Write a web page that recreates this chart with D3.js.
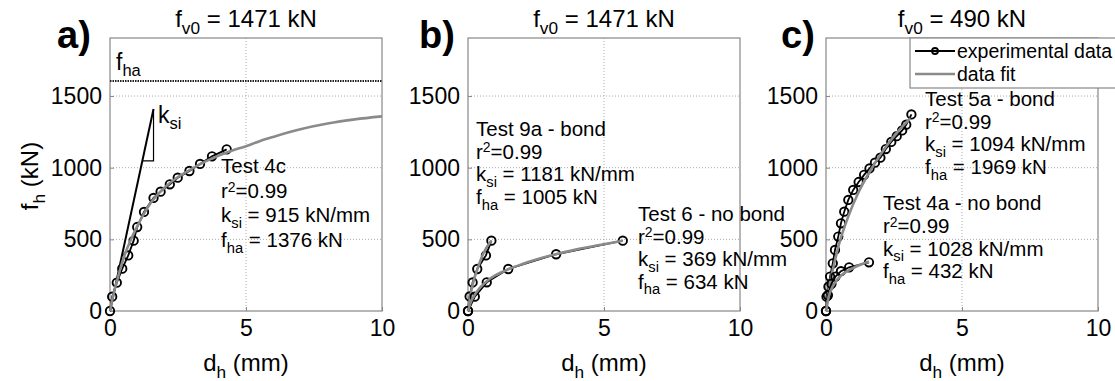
<!DOCTYPE html>
<html><head><meta charset="utf-8">
<script src="https://cdn.jsdelivr.net/npm/d3@7"></script>
<style>body{margin:0;background:#fff}svg{display:block}</style>
</head><body><svg id="c" width="1115" height="381" font-family="'Liberation Sans', Arial, sans-serif"></svg>
<script>
// ---------- data ----------
const xTicks = [0, 5, 10];
const yTicks = [0, 500, 1000, 1500];
const panelLetters = ["a)", "b)", "c)"];
const panelFv0 = ["1471", "1471", "490"];

// panel a: Test 4c
const test4cExp = [[0,0],[0.08,100],[0.25,198],[0.45,295],[0.67,388],[0.87,491],[1.0,586],[1.25,691],[1.6,789],[1.86,833],[2.2,884],[2.49,930],[2.92,977],[3.31,1026],[3.75,1079],[4.29,1128]];
const test4cFit = [[0,0],[0.1,95],[0.25,205],[0.5,370],[0.75,490],[1,590],[1.5,755],[2,860],[2.5,935],[3,992],[3.5,1042],[4,1085],[4.5,1120],[5,1150],[5.5,1185],[6,1215],[7,1268],[8,1308],[9,1337],[10,1358]];
const fhaLevelA = 1605;
const ksiLineA = [[0,0],[1.6,1410]];
const ksiTriA = [[1.19,1047],[1.6,1047],[1.6,1410]];

// panel b: Test 9a (bond), Test 6 (no bond)
const test9aExp = [[0,0],[0.06,102],[0.17,199],[0.34,293],[0.66,388],[0.86,491]];
const test9aFit = [[0,0],[0.08,100],[0.2,205],[0.36,300],[0.56,400],[0.86,492]];
const test6Exp = [[0,0],[0.25,100],[0.69,200],[1.48,293],[3.24,396],[5.69,491]];
const test6Fit = [[0,0],[0.1,60],[0.3,128],[0.7,210],[1.0,248],[1.5,293],[2,328],[3,385],[4,430],[5,466],[5.69,490]];

// panel c: Test 5a (bond), Test 4a (no bond)
const test5aExp = [[0,0],[0.02,100],[0.09,170],[0.15,240],[0.25,333],[0.33,426],[0.45,519],[0.55,612],[0.67,693],[0.82,775],[1.0,845],[1.2,900],[1.4,950],[1.6,995],[1.8,1035],[2.0,1070],[2.2,1130],[2.4,1180],[2.6,1220],[2.8,1260],[2.95,1300],[3.14,1372]];
const test5aFit = [[0,0],[0.1,150],[0.3,330],[0.5,480],[0.8,650],[1.2,830],[1.6,970],[2,1090],[2.5,1220],[3.1,1345]];
const test4aExp = [[0,0],[0.07,110],[0.2,190],[0.35,240],[0.55,278],[0.85,305],[1.58,340]];
const test4aFit = [[0,0],[0.1,100],[0.3,190],[0.6,255],[1,300],[1.58,345]];

const legendLabels = ["experimental data", "data fit"];

// ---------- layout ----------
const svg = d3.select("#c");
const FONT = "'Liberation Sans', Arial, sans-serif";
const panelLeft = [110, 468, 826], panelW = 272, plotTop = 38, plotBottom = 311;
const letterX = [57, 419, 781];

function rich(sel, x, y, parts, size, anchor) {
  const t = sel.append("text").attr("x", x).attr("y", y).attr("font-size", size)
    .attr("text-anchor", anchor || "start").attr("fill", "#000").attr("font-family", FONT);
  let shift = 0;
  parts.forEach(p => {
    const ts = t.append("tspan").text(p.t);
    let target = 0, fs = size;
    if (p.sub) { target = size * 0.28; fs = size * 0.72; }
    if (p.sup) { target = -size * 0.3; fs = size * 0.68; }
    ts.attr("dy", target - shift).attr("font-size", fs);
    shift = target;
  });
  return t;
}

const xs = [], ys = [];
panelLeft.forEach((L, i) => {
  const x = d3.scaleLinear().domain([0, 10]).range([L, L + panelW]);
  const y = d3.scaleLinear().domain([0, 1905]).range([plotBottom, plotTop]);
  xs.push(x); ys.push(y);
  const g = svg.append("g");
  xTicks.slice(1, -1).forEach(v => g.append("line").attr("x1", x(v)).attr("x2", x(v)).attr("y1", plotTop).attr("y2", plotBottom)
    .attr("stroke", "#aaa").attr("stroke-dasharray", "1,2").attr("stroke-width", 1));
  yTicks.slice(1).forEach(v => g.append("line").attr("x1", L).attr("x2", L + panelW).attr("y1", y(v)).attr("y2", y(v))
    .attr("stroke", "#aaa").attr("stroke-dasharray", "1,2").attr("stroke-width", 1));
  g.append("rect").attr("x", L).attr("y", plotTop).attr("width", panelW).attr("height", plotBottom - plotTop)
    .attr("fill", "none").attr("stroke", "#888").attr("stroke-width", 1.2);
  const ax = g.append("g").attr("transform", `translate(0,${plotBottom})`)
    .call(d3.axisBottom(x).tickValues(xTicks).tickFormat(d3.format("d")).tickSizeInner(-4).tickSizeOuter(0).tickPadding(8));
  const ay = g.append("g").attr("transform", `translate(${L},0)`)
    .call(d3.axisLeft(y).tickValues(yTicks).tickFormat(d3.format("d")).tickSizeInner(-4).tickSizeOuter(0).tickPadding(8));
  [ax, ay].forEach(a => {
    a.select(".domain").remove();
    a.selectAll(".tick line").attr("stroke", "#888");
    a.selectAll("text").attr("font-size", 23).attr("font-family", FONT).attr("fill", "#000");
  });
  ax.selectAll("text").attr("dy", "0.74em");
  svg.append("text").attr("x", letterX[i]).attr("y", 48).attr("font-size", 38).attr("font-weight", "bold")
    .attr("font-family", FONT).attr("fill", "#000").text(panelLetters[i]);
  rich(svg, L + panelW / 2, 27, [{t: "f"}, {t: "v0", sub: true}, {t: " = " + panelFv0[i] + " kN"}], 24, "middle");
  rich(svg, L + panelW / 2, 371, [{t: "d"}, {t: "h", sub: true}, {t: " (mm)"}], 24, "middle");
});
rich(svg.append("g").attr("transform", "translate(38,176) rotate(-90)"), 0, 0,
  [{t: "f"}, {t: "h", sub: true}, {t: " (kN)"}], 24, "middle");

const line = (x, y) => d3.line().x(d => x(d[0])).y(d => y(d[1]));
function drawExp(i, data) {
  const x = xs[i], y = ys[i];
  svg.append("path").datum(data).attr("d", line(x, y)).attr("fill", "none").attr("stroke", "#000").attr("stroke-width", 1.8);
  svg.append("g").selectAll("circle").data(data).join("circle")
    .attr("cx", d => x(d[0])).attr("cy", d => y(d[1])).attr("r", 4.2)
    .attr("fill", "none").attr("stroke", "#000").attr("stroke-width", 1.9);
}
function drawFit(i, data) {
  svg.append("path").datum(data).attr("d", line(xs[i], ys[i]).curve(d3.curveMonotoneX))
    .attr("fill", "none").attr("stroke", "#8a8a8a").attr("stroke-width", 2.6);
}

svg.append("line").attr("x1", xs[0](0)).attr("x2", xs[0](10)).attr("y1", ys[0](fhaLevelA)).attr("y2", ys[0](fhaLevelA))
  .attr("stroke", "#222").attr("stroke-width", 2).attr("stroke-dasharray", "1.5,1");
rich(svg, 116, 70, [{t: "f"}, {t: "ha", sub: true}], 23);
svg.append("path").datum(ksiLineA).attr("d", line(xs[0], ys[0])).attr("stroke", "#000").attr("stroke-width", 2).attr("fill", "none");
svg.append("path").datum(ksiTriA).attr("d", line(xs[0], ys[0])).attr("stroke", "#000").attr("stroke-width", 1.2).attr("fill", "none");
rich(svg, 158, 123, [{t: "k"}, {t: "si", sub: true}], 23);

drawExp(0, test4cExp); drawFit(0, test4cFit);
drawExp(1, test9aExp); drawFit(1, test9aFit);
drawExp(1, test6Exp); drawFit(1, test6Fit);
drawExp(2, test5aExp); drawFit(2, test5aFit);
drawExp(2, test4aExp); drawFit(2, test4aFit);

function block(x, y0, dy, name, r2, ksi, fha) {
  const fs = 20.5;
  rich(svg, x, y0, [{t: name}], fs);
  rich(svg, x, y0 + dy, [{t: "r"}, {t: "2", sup: true}, {t: "=" + r2}], fs);
  rich(svg, x, y0 + 2 * dy, [{t: "k"}, {t: "si", sub: true}, {t: " = " + ksi + " kN/mm"}], fs);
  rich(svg, x, y0 + 3 * dy, [{t: "f"}, {t: "ha", sub: true}, {t: " = " + fha + " kN"}], fs);
}
block(221, 173, 24.7, "Test 4c", "0.99", "915", "1376");
block(476, 136, 22.6, "Test 9a - bond", "0.99", "1181", "1005");
block(638, 221, 22.5, "Test 6 - no bond", "0.99", "369", "634");
block(925, 106, 22.6, "Test 5a - bond", "0.99", "1094", "1969");
block(883, 210, 22.8, "Test 4a - no bond", "0.99", "1028", "432");

const lg = svg.append("g");
lg.append("rect").attr("x", 910).attr("y", 38).attr("width", 210).attr("height", 50)
  .attr("fill", "#fff").attr("stroke", "#888").attr("stroke-width", 1.2);
lg.append("line").attr("x1", 915).attr("x2", 955).attr("y1", 51).attr("y2", 51).attr("stroke", "#000").attr("stroke-width", 1.8);
lg.append("circle").attr("cx", 935).attr("cy", 51).attr("r", 3).attr("fill", "none").attr("stroke", "#000").attr("stroke-width", 1.8);
lg.append("line").attr("x1", 915).attr("x2", 955).attr("y1", 74).attr("y2", 74).attr("stroke", "#8a8a8a").attr("stroke-width", 2.6);
lg.append("text").attr("x", 957).attr("y", 58).attr("font-size", 19.5).attr("font-family", FONT).text(legendLabels[0]);
lg.append("text").attr("x", 957).attr("y", 81).attr("font-size", 19.5).attr("font-family", FONT).text(legendLabels[1]);
</script></body></html>
